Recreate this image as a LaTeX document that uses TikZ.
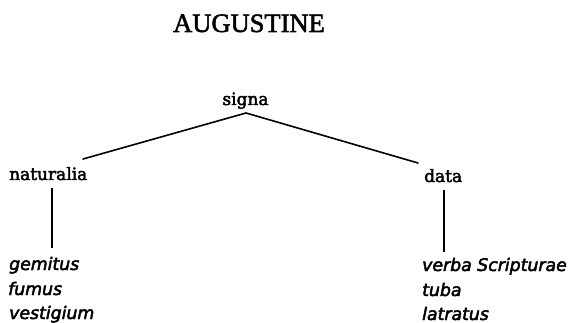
\documentclass[tikz,border=0pt]{standalone}
\usepackage{fontspec}
\setmainfont{Liberation Serif}
\newfontfamily\titlefont{Liberation Serif}[FakeBold=2]
\newfontfamily\labelfont{DejaVu Serif}[FakeBold=2.6]
\newfontfamily\itemfont{DejaVu Sans}[UprightFont=*-Oblique,FakeBold=2.8]
\begin{document}
\begin{tikzpicture}[x=1pt,y=-1pt,
  title/.style={inner sep=0pt,anchor=base,font=\titlefont\fontsize{26.5}{30}\selectfont},
  term/.style={inner sep=0pt,anchor=base west,font=\labelfont\fontsize{17}{20}\selectfont},
  example/.style={inner sep=0pt,anchor=base west,font=\itemfont\fontsize{17.3}{20}\selectfont},
  branch/.style={line width=1.6pt,line cap=round},
  stem/.style={line width=1.8pt}]
\useasboundingbox (0,0) rectangle (570,323);

% heading
\node[title] (head) at (249,32) {AUGUSTINE};

% the tree of signs
\node[term,anchor=base] (signa) at (245.5,105) {signa};
\node[term] (naturalia) at (9,180) {naturalia};
\node[term] (data) at (424,182) {data};

% examples under each class
\node[example] (gemitus)   at (9,270)   {gemitus};
\node[example] (fumus)     at (8,295)   {fumus};
\node[example] (vestigium) at (9,319)   {vestigium};
\node[example] (verba)     at (422,271) {verba Scripturae};
\node[example] (tuba)      at (422,296) {tuba};
\node[example] (latratus)  at (422,320) {latratus};

% branch ends
\coordinate (apex)    at (246,113);
\coordinate (natroot) at (83,159);
\coordinate (datroot) at (418,163);
\coordinate (natleg)  at (52,188);
\coordinate (natfoot) at (52,248);
\coordinate (datleg)  at (444,190);
\coordinate (datfoot) at (444,252);

\draw[branch] (natroot) -- (apex) -- (datroot);
\draw[stem] (natleg) -- (natfoot);
\draw[stem,line width=1.4pt] (datleg) -- (datfoot);
\end{tikzpicture}
\end{document}
